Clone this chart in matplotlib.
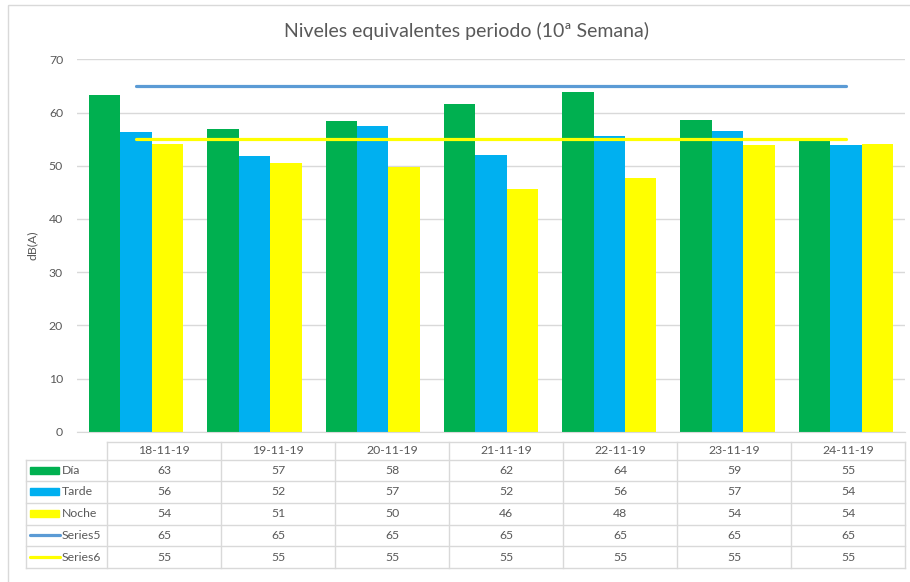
import matplotlib
matplotlib.use("Agg")
import matplotlib.pyplot as plt
from matplotlib.patches import Rectangle
import numpy as np

plt.rcParams["font.family"] = ["Lato", "DejaVu Sans"]

# Data
dates = ["18-11-19", "19-11-19", "20-11-19", "21-11-19",
         "22-11-19", "23-11-19", "24-11-19"]
dia = [63.2, 56.9, 58.4, 61.6, 63.8, 58.6, 54.6]
tarde = [56.3, 51.8, 57.4, 52.1, 55.6, 56.6, 53.9]
noche = [54.0, 50.6, 49.7, 45.7, 47.7, 53.9, 54.1]
series5 = [65, 65, 65, 65, 65, 65, 65]
series6 = [55, 55, 55, 55, 55, 55, 55]

bar_names = ["Día", "Tarde", "Noche"]
bar_colors = ["#00B050", "#00B0F0", "#FFFF00"]
line_names = ["Series5", "Series6"]
line_colors = ["#5B9BD5", "#FFFF00"]
text_gray = "#595959"
grid_gray = "#D9D9D9"

W, H = 910, 582
fig = plt.figure(figsize=(W / 100, H / 100), dpi=100)

# main plot area (pixel positions from the reference)
left, right, top, bottom = 77, 905, 59.3, 431.7
ax = fig.add_axes([left / W, 1 - bottom / H, (right - left) / W, (bottom - top) / H])

x = np.arange(len(dates))
bw = 0.266
for k, (vals, col) in enumerate(zip([dia, tarde, noche], bar_colors)):
    ax.bar(x + (k - 1) * bw, vals, width=bw, color=col, zorder=2)

for vals, col in zip([series5, series6], line_colors):
    ax.plot(x, vals, color=col, lw=2.3, solid_capstyle="round", zorder=3)

ax.set_xlim(-0.5, len(dates) - 0.5)
ax.set_ylim(0, 70)
ax.set_yticks(range(0, 71, 10))
ax.yaxis.grid(True, color=grid_gray, lw=1)
ax.set_axisbelow(True)
ax.set_xticks([])
for s in ax.spines.values():
    s.set_visible(False)
ax.spines["bottom"].set_visible(True)
ax.spines["bottom"].set_color(grid_gray)
ax.tick_params(axis="y", length=0, labelsize=8.8, labelcolor=text_gray, pad=10)
ax.set_ylabel("dB(A)", fontsize=8.8, color=text_gray, labelpad=8)

fig.text(467 / W, 1 - 31 / H, "Niveles equivalentes periodo (10ª Semana)",
         ha="center", va="center", fontsize=14, color=text_gray)

# overlay for frame and data table, in pixel coordinates
ov = fig.add_axes([0, 0, 1, 1], zorder=-1)
ov.set_xlim(0, W)
ov.set_ylim(H, 0)
ov.axis("off")
ov.add_patch(Rectangle((8, 5), 905, 590, fill=False, ec="#D9D9D9", lw=1))

tab_x0, tab_x1 = 25.7, 107
col_w = (905 - tab_x1) / len(dates)
row_y = [441.7, 459.5, 481, 502.8, 524.5, 546.3, 568]

# header row
ov.plot([tab_x1, 905], [row_y[0], row_y[0]], color=grid_gray, lw=1)
for i in range(len(dates) + 1):
    xx = tab_x1 + i * col_w
    ov.plot([xx, xx], [row_y[0], row_y[-1]], color=grid_gray, lw=1)
ov.plot([tab_x0, tab_x0], [row_y[1], row_y[-1]], color=grid_gray, lw=1)
for yy in row_y[1:]:
    ov.plot([tab_x0, 905], [yy, yy], color=grid_gray, lw=1)

for i, d in enumerate(dates):
    ov.text(tab_x1 + (i + 0.5) * col_w, (row_y[0] + row_y[1]) / 2, d,
            ha="center", va="center", fontsize=8.8, color=text_gray)

rows = [dia, tarde, noche, series5, series6]
names = bar_names + line_names
colors = bar_colors + line_colors
for r, (vals, name, col) in enumerate(zip(rows, names, colors)):
    yc = (row_y[r + 1] + row_y[r + 2]) / 2
    if r < 3:
        ov.add_patch(Rectangle((30, yc - 3.5), 29, 7, color=col))
    else:
        ov.plot([30, 60], [yc, yc], color=col, lw=2.3, solid_capstyle="round")
    ov.text(62, yc, name, ha="left", va="center", fontsize=8.8, color=text_gray)
    for i, v in enumerate(vals):
        ov.text(tab_x1 + (i + 0.5) * col_w, yc, f"{v:.0f}",
                ha="center", va="center", fontsize=8.8, color=text_gray)

fig.savefig("out.png", dpi=100)
